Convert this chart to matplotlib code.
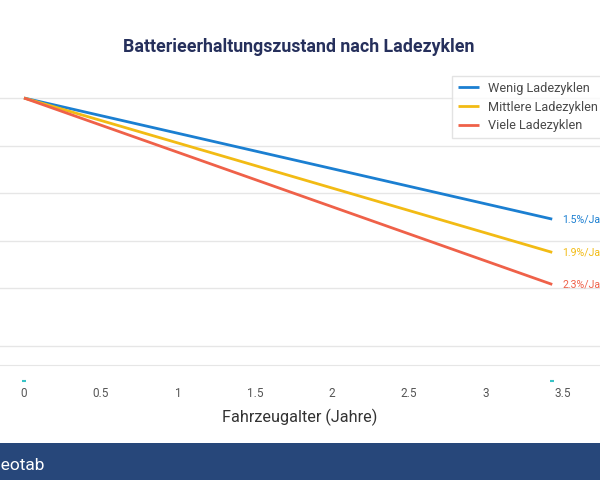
import matplotlib.pyplot as plt
import matplotlib.transforms as mtransforms
from matplotlib.patches import Rectangle

# data
years = [0, 3.43]
wenig = [100, 94.9]
mittlere = [100, 93.5]
viele = [100, 92.15]
names = ["Wenig Ladezyklen", "Mittlere Ladezyklen", "Viele Ladezyklen"]
rate_labels = ["1.5%/Jahr", "1.9%/Jahr", "2.3%/Jahr"]
xticks = [0, 0.5, 1, 1.5, 2, 2.5, 3, 3.5]
xtick_labels = ["0", "0.5", "1", "1.5", "2", "2.5", "3", "3.5"]
grid_vals = [100, 98, 96, 94, 92, 89.55]

colors = ["#1b7fd1", "#f2bb14", "#ef6149"]
W, H = 600, 480

plt.rcParams['font.family'] = ['Roboto', 'DejaVu Sans']
fig = plt.figure(figsize=(6, 4.8), dpi=100)
fig.patch.set_facecolor("white")

# axes: left edge at pixel 0, bottom at pixel 365, top at 75
ax = fig.add_axes([0, (H - 365) / H, 1, (365 - 75) / H])
px_per_x = 154.0
ax.set_xlim(-24 / px_per_x, (W - 24) / px_per_x)
px_per_y = 23.75
ax.set_ylim(100 - (365 - 98) / px_per_y, 100 + (98 - 75) / px_per_y)

for v in grid_vals:
    ax.axhline(v, color="#e6e6e6", lw=1, zorder=0)
for s in ["top", "left", "right"]:
    ax.spines[s].set_visible(False)
ax.spines["bottom"].set_color("#e6e6e6")
ax.set_yticks([])
ax.set_xticks(xticks)
ax.set_xticklabels(xtick_labels, fontsize=8.5, color="#555555")
ax.tick_params(axis="x", length=0, pad=16)
ax.set_xlabel("Fahrzeugalter (Jahre)", fontsize=11.7, color="#333333", labelpad=6)

series = [wenig, mittlere, viele]
for vals, name, c, lab in zip(series, names, colors, rate_labels):
    ax.plot(years, vals, color=c, lw=2, label=name, solid_capstyle="butt")
    ax.text(years[-1] + 10 / px_per_x, vals[-1], lab, color=c, fontsize=7.6, va="center", ha="left")

# small teal marks under the axis
trans = mtransforms.blended_transform_factory(ax.transData, ax.transAxes)
ax.plot(years, [-0.055, -0.055], ls="none", marker="_", ms=3, mew=1.5,
        color="#38c3c6", transform=trans, clip_on=False)

leg = ax.legend(loc="upper left", bbox_to_anchor=(452 / W, 1 - 76 / H),
                bbox_transform=fig.transFigure, fontsize=9.2, frameon=True,
                fancybox=False, handlelength=1.7, handletextpad=0.7,
                borderpad=0.45, borderaxespad=0, labelspacing=0.45)
leg.get_frame().set_edgecolor("#dddddd")
leg.get_frame().set_linewidth(1)
for t in leg.get_texts():
    t.set_color("#4a4a4a")

fig.text(299 / W, 1 - 47 / H, "Batterieerhaltungszustand nach Ladezyklen",
         ha="center", va="center", fontsize=12.8, fontweight="bold", color="#26305c")

# footer band
fig.patches.append(Rectangle((0, 0), 1, 37 / H, transform=fig.transFigure,
                             facecolor="#27477a", edgecolor="none", zorder=0))
fig.text(-11 / W, 15 / H, "Geotab", color="white", fontsize=12.5, va="center", ha="left")

fig.savefig("out.png", dpi=100)
